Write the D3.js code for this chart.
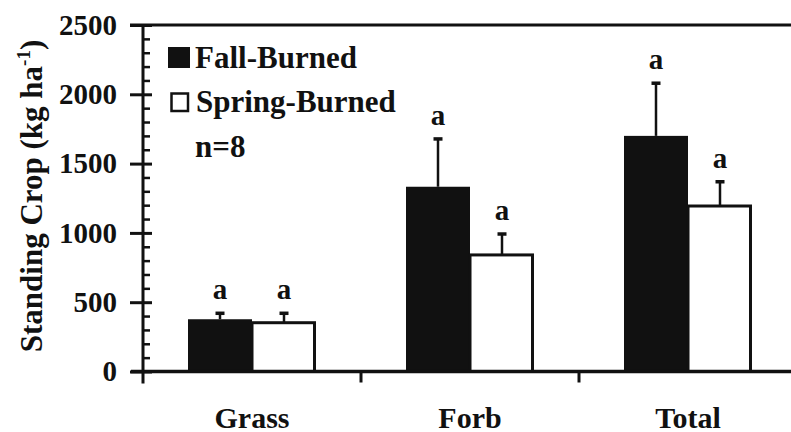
<!DOCTYPE html>
<html>
<head>
<meta charset="utf-8">
<script src="https://cdn.jsdelivr.net/npm/d3@7"></script>
<style>
  html, body { margin: 0; padding: 0; background: #fff; }
  svg { display: block; }
</style>
</head>
<body>
<svg id="chart" width="791" height="432"></svg>
<script>
// ---- data ----
const categories = ["Grass", "Forb", "Total"];
const seriesNames = ["Fall-Burned", "Spring-Burned"];
const fallValues = [377, 1333, 1700];
const fallErrors = [43, 345, 380];
const springValues = [352, 841, 1194];
const springErrors = [68, 151, 175];
const sigLetters = [["a", "a"], ["a", "a"], ["a", "a"]];
const yTicks = [0, 500, 1000, 1500, 2000, 2500];
const yMinorTicks = d3.range(0, 2501, 100).filter(v => v % 500 !== 0);
const sampleNote = "n=8";

// ---- layout ----
const svg = d3.select("#chart");
const ink = "#111";
const FONT = '"Liberation Serif", "Times New Roman", Times, serif';
const plotLeft = 143, plotRight = 797, plotTop = 25, plotBottom = 371.5;

function serif(sel, size) {
  return sel.style("font-family", FONT).style("font-weight", "bold")
    .style("font-size", size + "px").style("fill", ink);
}

const y = d3.scaleLinear().domain([0, 2500]).range([plotBottom, plotTop]);
const x = d3.scaleBand().domain(categories).range([plotLeft, plotRight]).padding(0);
const barW = 64;
const x1 = d3.scaleBand().domain(seriesNames).range([0, barW * 2]).padding(0);

const rows = categories.map((c, i) => ({
  cat: c,
  vals: [
    { s: seriesNames[0], v: fallValues[i], e: fallErrors[i], l: sigLetters[i][0] },
    { s: seriesNames[1], v: springValues[i], e: springErrors[i], l: sigLetters[i][1] }
  ]
}));

// ---- bars ----
const g = svg.append("g");
const groups = g.selectAll("g.grp").data(rows).join("g")
  .attr("class", "grp")
  .attr("transform", d => `translate(${x(d.cat) + x.bandwidth() / 2 - barW},0)`);

groups.selectAll("rect").data(d => d.vals).join("rect")
  .attr("x", d => x1(d.s))
  .attr("y", d => y(d.v))
  .attr("width", d => x1.bandwidth() - (d.s === seriesNames[1] ? 1.5 : 0))
  .attr("height", d => y(0) - y(d.v))
  .attr("fill", d => d.s === seriesNames[0] ? ink : "#fff")
  .attr("stroke", ink)
  .attr("stroke-width", d => d.s === seriesNames[0] ? 0 : 3);

// error bars (upward only)
groups.selectAll("line.err").data(d => d.vals).join("line")
  .attr("class", "err")
  .attr("x1", d => x1(d.s) + x1.bandwidth() / 2)
  .attr("x2", d => x1(d.s) + x1.bandwidth() / 2)
  .attr("y1", d => y(d.v))
  .attr("y2", d => y(d.v + d.e))
  .attr("stroke", ink).attr("stroke-width", 2.5);
groups.selectAll("line.cap").data(d => d.vals).join("line")
  .attr("class", "cap")
  .attr("x1", d => x1(d.s) + x1.bandwidth() / 2 - 4.5)
  .attr("x2", d => x1(d.s) + x1.bandwidth() / 2 + 4.5)
  .attr("y1", d => y(d.v + d.e))
  .attr("y2", d => y(d.v + d.e))
  .attr("stroke", ink).attr("stroke-width", 3.5);
serif(groups.selectAll("text.sig").data(d => d.vals).join("text")
  .attr("class", "sig")
  .attr("x", d => x1(d.s) + x1.bandwidth() / 2)
  .attr("y", d => y(d.v + d.e) - 14)
  .attr("text-anchor", "middle"), 29)
  .text(d => d.l);

// ---- y axis ----
const yMajor = d3.axisLeft(y).tickValues(yTicks).tickSize(13).tickPadding(13).tickFormat(d3.format("d"));
const yAx = svg.append("g").attr("transform", `translate(${plotLeft},0)`).call(yMajor);
yAx.select(".domain").remove();
yAx.selectAll(".tick line").attr("stroke", ink).attr("stroke-width", 3);
serif(yAx.selectAll(".tick text"), 29);

const yMajR = d3.axisRight(y).tickValues(yTicks).tickSize(9).tickFormat("");
const yR = svg.append("g").attr("transform", `translate(${plotLeft},0)`).call(yMajR);
yR.select(".domain").remove();
yR.selectAll(".tick line").attr("stroke", ink).attr("stroke-width", 3);

const yMinR = d3.axisRight(y).tickValues(yMinorTicks).tickSize(7).tickFormat("");
const yM = svg.append("g").attr("transform", `translate(${plotLeft},0)`).call(yMinR);
yM.select(".domain").remove();
yM.selectAll(".tick line").attr("stroke", ink).attr("stroke-width", 2.5);

// axis spine lines
svg.append("line").attr("x1", plotLeft).attr("x2", plotLeft).attr("y1", y(2500) - 1).attr("y2", plotBottom + 12)
  .attr("stroke", ink).attr("stroke-width", 3);
svg.append("line").attr("x1", plotLeft - 13).attr("x2", 791).attr("y1", y(2500)).attr("y2", y(2500))
  .attr("stroke", ink).attr("stroke-width", 3);
svg.append("line").attr("x1", plotLeft - 12).attr("x2", 791).attr("y1", y(0)).attr("y2", y(0))
  .attr("stroke", ink).attr("stroke-width", 3.5);

// ---- x axis ----
const xAx = d3.axisBottom(x).tickSize(0).tickPadding(0);
const xg = svg.append("g").attr("transform", `translate(0,${plotBottom})`).call(xAx);
xg.select(".domain").remove();
serif(xg.selectAll(".tick text"), 30).attr("dy", null).attr("y", 56);
// separator ticks between groups
svg.selectAll("line.sep").data(categories.slice(1)).join("line")
  .attr("class", "sep")
  .attr("x1", d => x(d)).attr("x2", d => x(d))
  .attr("y1", plotBottom).attr("y2", plotBottom + 11)
  .attr("stroke", ink).attr("stroke-width", 3);

// ---- y title ----
const yt = serif(svg.append("text")
  .attr("transform", "translate(42,196) rotate(-90)")
  .attr("text-anchor", "middle"), 31);
yt.append("tspan").text("Standing Crop (kg ha");
yt.append("tspan").style("font-size", "19px").attr("dy", -12).text("-1");
yt.append("tspan").attr("dy", 12).text(")");

// ---- legend ----
const leg = svg.append("g");
leg.append("rect").attr("x", 168).attr("y", 47).attr("width", 22).attr("height", 21).attr("fill", ink);
serif(leg.append("text").attr("x", 195).attr("y", 68), 31).text(seriesNames[0]);
leg.append("rect").attr("x", 171.5).attr("y", 93.5).attr("width", 16.5).attr("height", 17.5)
  .attr("fill", "#fff").attr("stroke", ink).attr("stroke-width", 2.5);
serif(leg.append("text").attr("x", 196).attr("y", 112), 31).text(seriesNames[1]);
serif(leg.append("text").attr("x", 195).attr("y", 157), 31).text(sampleNote);
</script>
</body>
</html>
